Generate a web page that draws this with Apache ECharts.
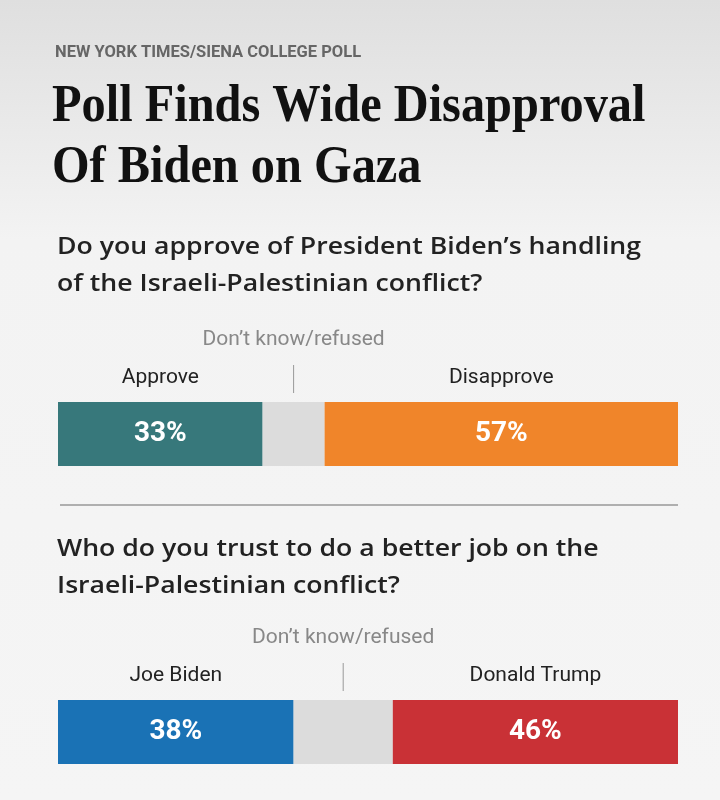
<!DOCTYPE html>
<html><head><meta charset="utf-8">
<script src="https://cdn.jsdelivr.net/npm/echarts@6/dist/echarts.min.js"></script>
<style>html,body{margin:0;padding:0;background:#f5f5f5}#c{width:720px;height:800px}</style>
</head><body><div id="c"></div>
<script>
const kicker = "NEW YORK TIMES/SIENA COLLEGE POLL";
const titleLines = ["Poll Finds Wide Disapproval", "Of Biden on Gaza"];
const questions = ["Do you approve of President Biden’s handling\nof the Israeli-Palestinian conflict?", "Who do you trust to do a better job on the\nIsraeli-Palestinian conflict?"];
const leftNames = ["Approve", "Joe Biden"];
const rightNames = ["Disapprove", "Donald Trump"];
const middleName = "Don’t know/refused";
const leftValues = [33, 38];
const middleValues = [10, 16];
const rightValues = [57, 46];
const leftColors = ["#37787b", "#1a72b5"];
const rightColors = ["#f0852a", "#c93136"];

const chart = echarts.init(document.getElementById('c'), null, {renderer: 'canvas'});
const barTops = [402, 700];
const barH = 64;
const SANS = 'Roboto, "Liberation Sans", sans-serif';
const QSANS = '"Open Sans", Roboto, sans-serif';

const grids = [], xAxes = [], yAxes = [], series = [];
for (let i = 0; i < 2; i++) {
  grids.push({left: 58, right: 42, top: barTops[i], height: barH, containLabel: false});
  xAxes.push({type: 'value', gridIndex: i, min: 0, max: 100, show: false});
  yAxes.push({type: 'category', gridIndex: i, data: ['q'], show: false});
  const parts = [
    {v: leftValues[i], c: leftColors[i], lab: true},
    {v: middleValues[i], c: '#dcdcdc', lab: false},
    {v: rightValues[i], c: rightColors[i], lab: true}
  ];
  parts.forEach(p => {
    series.push({
      type: 'bar', xAxisIndex: i, yAxisIndex: i, stack: 's' + i,
      barWidth: '100%', data: [p.v], silent: true,
      itemStyle: {color: p.c},
      label: {show: p.lab, position: 'inside', formatter: '{c}%', color: '#fff',
        fontFamily: SANS, fontWeight: 'bold', fontSize: 28}
    });
  });
}

const graphic = [
  {type: 'rect', z: -10, shape: {x: 0, y: 0, width: 720, height: 800},
   style: {fill: new echarts.graphic.LinearGradient(0, 0, 0, 1, [
     {offset: 0, color: '#dfdfdf'}, {offset: 0.3, color: '#f3f3f3'}, {offset: 1, color: '#f5f5f5'}])}},
  {type: 'text', x: 55, y: 53, style: {text: kicker, fill: '#666', font: 'bold 16.5px ' + SANS, verticalAlign: 'middle'}},
  {type: 'text', x: 52, y: 108, scaleX: 0.93, style: {text: titleLines[0], fill: '#111', font: 'bold 52px "Liberation Serif", serif', verticalAlign: 'middle'}},
  {type: 'text', x: 52, y: 168.5, scaleX: 0.93, style: {text: titleLines[1], fill: '#111', font: 'bold 52px "Liberation Serif", serif', verticalAlign: 'middle'}},
  {type: 'text', x: 57, y: 229, scaleX: 1.11, style: {text: questions[0], fill: '#222', font: '600 24px ' + QSANS, lineHeight: 37, verticalAlign: 'top'}},
  {type: 'text', x: 57, y: 531, scaleX: 1.11, style: {text: questions[1], fill: '#222', font: '600 24px ' + QSANS, lineHeight: 37, verticalAlign: 'top'}},
  {type: 'line', shape: {x1: 60, y1: 505, x2: 678, y2: 505}, style: {stroke: '#999', lineWidth: 1.5}}
];

chart.setOption({animation: false, grid: grids, xAxis: xAxes, yAxis: yAxes, series: series, graphic: graphic});

for (let i = 0; i < 2; i++) {
  const px = v => chart.convertToPixel({gridIndex: i}, [v, 0]);
  const top = barTops[i];
  const lc = px(leftValues[i] / 2)[0];
  const mc = px(leftValues[i] + middleValues[i] / 2)[0];
  const rc = px(leftValues[i] + middleValues[i] + rightValues[i] / 2)[0];
  graphic.push(
    {type: 'text', x: lc, y: top - 24, style: {text: leftNames[i], fill: '#222', font: '21px ' + SANS, align: 'center', verticalAlign: 'middle'}},
    {type: 'text', x: rc, y: top - 24, style: {text: rightNames[i], fill: '#222', font: '21px ' + SANS, align: 'center', verticalAlign: 'middle'}},
    {type: 'text', x: mc, y: top - 62, style: {text: middleName, fill: '#888', font: '21px ' + SANS, align: 'center', verticalAlign: 'middle'}},
    {type: 'line', shape: {x1: mc, y1: top - 37, x2: mc, y2: top - 9}, style: {stroke: '#999', lineWidth: 1}}
  );
}
chart.setOption({graphic: graphic});
</script></body></html>
